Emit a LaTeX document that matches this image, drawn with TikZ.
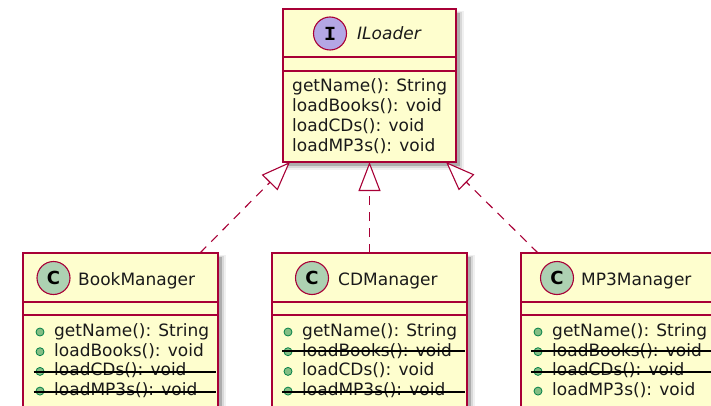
\documentclass[tikz,border=0pt]{standalone}
\usepackage{fontspec}
\setmainfont{DejaVu Sans}
\setmonofont{Liberation Mono}
\usetikzlibrary{arrows.meta,calc}

\definecolor{umlborder}{HTML}{A80036}
\definecolor{umlfill}{HTML}{FEFECE}
\definecolor{ifacecirc}{HTML}{B4A7E5}
\definecolor{classcirc}{HTML}{ADD1B2}
\definecolor{pubfill}{HTML}{84BE84}
\definecolor{pubborder}{HTML}{038048}
\definecolor{umltext}{HTML}{1A1A1A}

\tikzset{
  classbox/.style={draw=umlborder, fill=umlfill, line width=1.8pt, rectangle,
    inner sep=0pt, outer sep=0pt, anchor=north west},
  shadowlayer/.style={fill=black, draw=none},
  divider/.style={draw=umlborder, line width=1.8pt},
  kindcirc/.style={circle, draw=umlborder, line width=1.1pt, minimum size=33pt, inner sep=0pt},
  cname/.style={anchor=base west, inner sep=0pt, text=umltext, font=\fontsize{17}{20}\selectfont},
  member/.style={anchor=base west, inner sep=0pt, text=umltext, font=\fontsize{17}{20}\selectfont},
  pub/.style={circle, fill=pubfill, draw=pubborder, line width=0.8pt, minimum size=8pt, inner sep=0pt},
  strike/.style={draw=black, line width=2pt},
  realize/.style={draw=umlborder, line width=1.1pt, dash pattern=on 9pt off 7pt,
    -{Triangle[length=29pt,width=22pt,fill=white,line width=1.1pt]}},
}

\newcommand{\boxshadow}[4]{%
  \fill[shadowlayer, fill opacity=0.06] (#1+2,#2+2) rectangle (#3+8,#4+8);
  \fill[shadowlayer, fill opacity=0.10] (#1+3,#2+3) rectangle (#3+6,#4+6);
  \fill[shadowlayer, fill opacity=0.20] (#1+4,#2+4) rectangle (#3+4,#4+4);
}

\begin{document}
\begin{tikzpicture}[x=1pt, y=-1pt]
\useasboundingbox (0,0) rectangle (711,406);
\clip (0,0) rectangle (711,406);

% ---------- ILoader ----------
\boxshadow{283}{9}{456}{162}
\node[classbox, minimum width=173pt, minimum height=153pt] (iloader) at (283,9) {};
\draw[divider] (iloader.west |- 0,57) -- (iloader.east |- 0,57);
\draw[divider] (iloader.west |- 0,71) -- (iloader.east |- 0,71);
\node[kindcirc, fill=ifacecirc] (iloaderkind) at (330,33.5)
  {\ttfamily\bfseries\fontsize{20}{20}\selectfont I};
\node[cname, font=\fontsize{17}{20}\selectfont\itshape] (iloadername) at (357,40) {ILoader};
\node[member] (il1) at (292,92.0) {getName(): String};
\node[member] (il2) at (292,111.8) {loadBooks(): void};
\node[member] (il3) at (292,131.6) {loadCDs(): void};
\node[member] (il4) at (292,151.4) {loadMP3s(): void};

% ---------- BookManager ----------
\boxshadow{23}{253}{218}{408}
\node[classbox, minimum width=195pt, minimum height=155pt] (book) at (23,253) {};
\draw[divider] (book.west |- 0,302) -- (book.east |- 0,302);
\draw[divider] (book.west |- 0,315) -- (book.east |- 0,315);
\node[kindcirc, fill=classcirc] (bookkind) at (53.5,278)
  {\bfseries\fontsize{18}{18}\selectfont C};
\node[cname] (bookname) at (78,285) {BookManager};
\node[pub] (bkp1) at (40,332.0) {};
\node[pub] (bkp2) at (40,351.7) {};
\node[pub] (bkp3) at (40,371.4) {};
\node[pub] (bkp4) at (40,391.1) {};
\node[member] (bk1) at (54,336.5) {getName(): String};
\node[member] (bk2) at (54,356.2) {loadBooks(): void};
\node[member] (bk3) at (54,375.9) {loadCDs(): void};
\node[member] (bk4) at (54,395.6) {loadMP3s(): void};
\draw[strike] (33.5,371.9) -- (216,371.9);
\draw[strike] (33.5,391.6) -- (216,391.6);

% ---------- CDManager ----------
\boxshadow{272}{253}{467}{408}
\node[classbox, minimum width=195pt, minimum height=155pt] (cd) at (272,253) {};
\draw[divider] (cd.west |- 0,302) -- (cd.east |- 0,302);
\draw[divider] (cd.west |- 0,315) -- (cd.east |- 0,315);
\node[kindcirc, fill=classcirc] (cdkind) at (312,278)
  {\bfseries\fontsize{18}{18}\selectfont C};
\node[cname] (cdname) at (338,285) {CDManager};
\node[pub] (cdp1) at (288,332.0) {};
\node[pub] (cdp2) at (288,351.7) {};
\node[pub] (cdp3) at (288,371.4) {};
\node[pub] (cdp4) at (288,391.1) {};
\node[member] (cd1) at (302,336.5) {getName(): String};
\node[member] (cd2) at (302,356.2) {loadBooks(): void};
\node[member] (cd3) at (302,375.9) {loadCDs(): void};
\node[member] (cd4) at (302,395.6) {loadMP3s(): void};
\draw[strike] (282,351.2) -- (465,351.2);
\draw[strike] (282,391.6) -- (465,391.6);

% ---------- MP3Manager ----------
\boxshadow{521}{253}{716}{408}
\node[classbox, minimum width=195pt, minimum height=155pt] (mp3) at (521,253) {};
\draw[divider] (mp3.west |- 0,302) -- (mp3.east |- 0,302);
\draw[divider] (mp3.west |- 0,315) -- (mp3.east |- 0,315);
\node[kindcirc, fill=classcirc] (mp3kind) at (557,278)
  {\bfseries\fontsize{18}{18}\selectfont C};
\node[cname] (mp3name) at (581,285) {MP3Manager};
\node[pub] (mpp1) at (538,332.0) {};
\node[pub] (mpp2) at (538,351.7) {};
\node[pub] (mpp3) at (538,371.4) {};
\node[pub] (mpp4) at (538,391.1) {};
\node[member] (mp1) at (552,336.5) {getName(): String};
\node[member] (mp2) at (552,356.2) {loadBooks(): void};
\node[member] (mp3m) at (552,375.9) {loadCDs(): void};
\node[member] (mp4) at (552,395.6) {loadMP3s(): void};
\draw[strike] (531,351.2) -- (714,351.2);
\draw[strike] (531,371.9) -- (714,371.9);

% ---------- realizations ----------
\coordinate (bookTop) at ($(book.north east)+(-18,0)$);
\coordinate (ilLeft)  at ($(iloader.south west)+(7,0)$);
\coordinate (mp3Top)  at ($(mp3.north west)+(17,0)$);
\coordinate (ilRight) at ($(iloader.south east)+(-10,0)$);
\draw[realize] (bookTop) -- (ilLeft);
\draw[realize] (cd.north) -- (iloader.south);
\draw[realize] (mp3Top) -- (ilRight);
\end{tikzpicture}
\end{document}
